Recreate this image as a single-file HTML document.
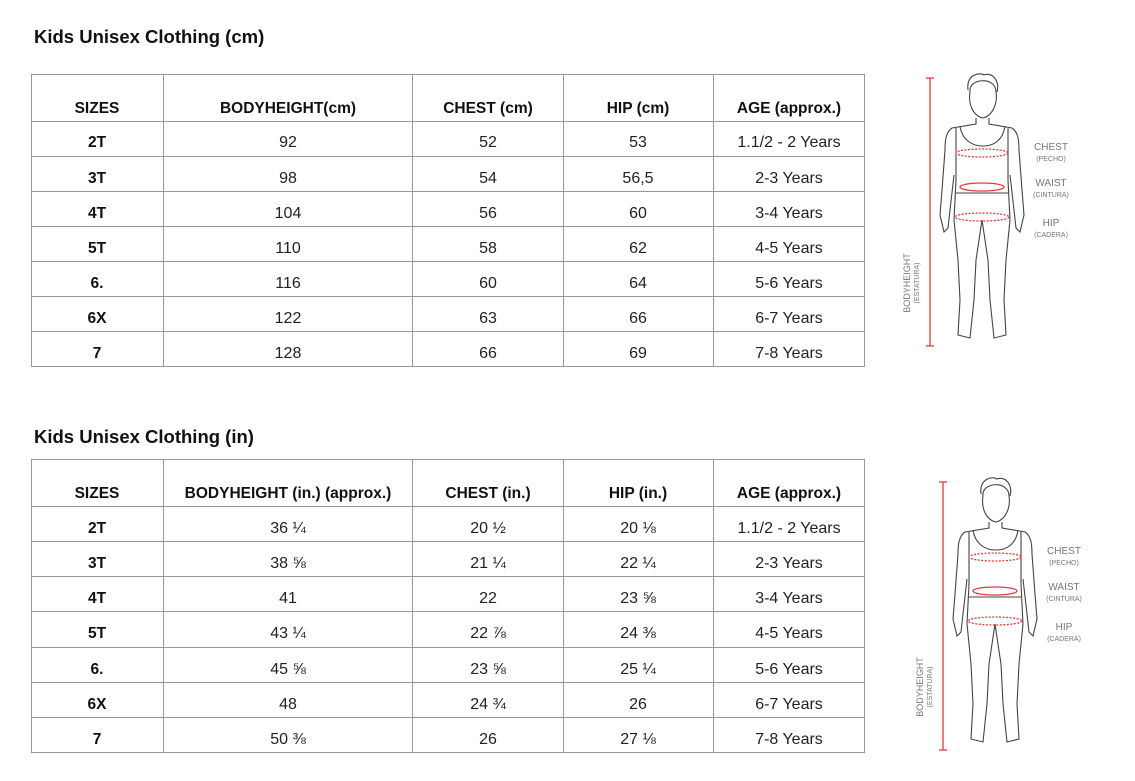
<!DOCTYPE html>
<html><head><meta charset="utf-8"><style>
html,body{margin:0;padding:0;background:#fff;}
svg{display:block;}
.t{font-family:"Liberation Sans",sans-serif;font-size:18.5px;font-weight:bold;fill:#111;}
.h{font-family:"Liberation Sans",sans-serif;font-size:15.5px;font-weight:bold;fill:#111;text-anchor:middle;}
.d{font-family:"Liberation Sans",sans-serif;font-size:16px;fill:#222;text-anchor:middle;}
.sz{font-family:"Liberation Sans",sans-serif;font-size:15.5px;font-weight:bold;fill:#111;text-anchor:middle;}
.lb{font-family:"Liberation Sans",sans-serif;font-size:10px;fill:#777;text-anchor:middle;}
.ls{font-family:"Liberation Sans",sans-serif;font-size:7px;fill:#777;text-anchor:middle;}
</style></head><body>
<svg width="1135" height="781" viewBox="0 0 1135 781" xmlns="http://www.w3.org/2000/svg">
<defs>
<g id="fig">
  <line x1="930" y1="78" x2="930" y2="346" stroke="#e53a3a" stroke-width="1.3"/>
  <line x1="926" y1="78" x2="934" y2="78" stroke="#e53a3a" stroke-width="1.3"/>
  <line x1="926" y1="346" x2="934" y2="346" stroke="#e53a3a" stroke-width="1.3"/>
  <g fill="none" stroke="#444" stroke-width="1.1">
    <path d="M970 92 C968 78 996 76 996 92 C998 104 992 116 983 118 C973 116 968 104 970 92 Z"/>
    <path d="M968 90 C966 74 980 72 984 75 C992 72 1000 80 997 92"/>
    <path d="M976 118 L976 124 L952 128 C946 132 945 140 945 150 L942 190 L940 215 L944 232 L948 228 L950 210 L954 175"/>
    <path d="M989 118 L989 124 L1012 128 C1018 132 1019 140 1019 150 L1022 190 L1024 215 L1020 232 L1016 228 L1014 210 L1010 175"/>
    <path d="M960 126 C962 140 972 146 983 146 C994 146 1003 140 1005 126"/>
    <path d="M956 128 L956 180 L954 220 L958 260 L960 300 L958 335 L970 338 L974 300 L976 260 L982 220"/>
    <path d="M1008 128 L1008 180 L1010 220 L1006 260 L1004 300 L1006 335 L994 338 L990 300 L988 260 L982 220"/>
    <path d="M956 193 L1008 193"/>
  </g>
  <g fill="none" stroke="#e53a3a" stroke-width="1.3">
    <ellipse cx="982" cy="153" rx="26" ry="4" stroke-dasharray="2 1.5"/>
    <ellipse cx="982" cy="187" rx="22" ry="4"/>
    <ellipse cx="982" cy="217" rx="27" ry="4" stroke-dasharray="2 1.5"/>
  </g>
  <text class="lb" x="1051" y="150">CHEST</text><text class="ls" x="1051" y="161">(PECHO)</text>
  <text class="lb" x="1051" y="186">WAIST</text><text class="ls" x="1051" y="197">(CINTURA)</text>
  <text class="lb" x="1051" y="226">HIP</text><text class="ls" x="1051" y="237">(CADERA)</text>
  <g transform="translate(910,283) rotate(-90)"><text class="lb" x="0" y="0" style="font-size:9px">BODYHEIGHT</text><text class="ls" x="0" y="9">(ESTATURA)</text></g>
</g>
</defs>

<text class="t" x="34" y="43">Kids Unisex Clothing (cm)</text>
<g stroke="#999" stroke-width="1" fill="none">
  <rect x="31.5" y="74.5" width="833" height="292"/>
  <path d="M163.5 74.5V366.5M412.5 74.5V366.5M563.5 74.5V366.5M713.5 74.5V366.5"/>
  <path d="M31.5 121.5H864.5M31.5 156.5H864.5M31.5 191.5H864.5M31.5 226.5H864.5M31.5 261.5H864.5M31.5 296.5H864.5M31.5 331.5H864.5"/>
</g>
<g>
<text class="h" x="97" y="113">SIZES</text><text class="h" x="288" y="113">BODYHEIGHT(cm)</text><text class="h" x="488" y="113">CHEST (cm)</text><text class="h" x="638" y="113">HIP (cm)</text><text class="h" x="789" y="113">AGE (approx.)</text>
<text class="sz" x="97" y="147">2T</text><text class="d" x="288" y="147">92</text><text class="d" x="488" y="147">52</text><text class="d" x="638" y="147">53</text><text class="d" x="789" y="147">1.1/2 - 2 Years</text>
<text class="sz" x="97" y="183">3T</text><text class="d" x="288" y="183">98</text><text class="d" x="488" y="183">54</text><text class="d" x="638" y="183">56,5</text><text class="d" x="789" y="183">2-3 Years</text>
<text class="sz" x="97" y="218">4T</text><text class="d" x="288" y="218">104</text><text class="d" x="488" y="218">56</text><text class="d" x="638" y="218">60</text><text class="d" x="789" y="218">3-4 Years</text>
<text class="sz" x="97" y="253">5T</text><text class="d" x="288" y="253">110</text><text class="d" x="488" y="253">58</text><text class="d" x="638" y="253">62</text><text class="d" x="789" y="253">4-5 Years</text>
<text class="sz" x="97" y="288">6.</text><text class="d" x="288" y="288">116</text><text class="d" x="488" y="288">60</text><text class="d" x="638" y="288">64</text><text class="d" x="789" y="288">5-6 Years</text>
<text class="sz" x="97" y="323">6X</text><text class="d" x="288" y="323">122</text><text class="d" x="488" y="323">63</text><text class="d" x="638" y="323">66</text><text class="d" x="789" y="323">6-7 Years</text>
<text class="sz" x="97" y="358">7</text><text class="d" x="288" y="358">128</text><text class="d" x="488" y="358">66</text><text class="d" x="638" y="358">69</text><text class="d" x="789" y="358">7-8 Years</text>
</g>

<text class="t" x="34" y="443">Kids Unisex Clothing  (in)</text>
<g stroke="#999" stroke-width="1" fill="none">
  <rect x="31.5" y="459.5" width="833" height="293"/>
  <path d="M163.5 459.5V752.5M412.5 459.5V752.5M563.5 459.5V752.5M713.5 459.5V752.5"/>
  <path d="M31.5 506.5H864.5M31.5 541.5H864.5M31.5 576.5H864.5M31.5 611.5H864.5M31.5 647.5H864.5M31.5 682.5H864.5M31.5 717.5H864.5"/>
</g>
<g>
<text class="h" x="97" y="498">SIZES</text><text class="h" x="288" y="498">BODYHEIGHT (in.) (approx.)</text><text class="h" x="488" y="498">CHEST (in.)</text><text class="h" x="638" y="498">HIP (in.)</text><text class="h" x="789" y="498">AGE (approx.)</text>
<text class="sz" x="97" y="533">2T</text><text class="d" x="288" y="533">36 ¼</text><text class="d" x="488" y="533">20 ½</text><text class="d" x="638" y="533">20 ⅛</text><text class="d" x="789" y="533">1.1/2 - 2 Years</text>
<text class="sz" x="97" y="568">3T</text><text class="d" x="288" y="568">38 ⅝</text><text class="d" x="488" y="568">21 ¼</text><text class="d" x="638" y="568">22 ¼</text><text class="d" x="789" y="568">2-3 Years</text>
<text class="sz" x="97" y="603">4T</text><text class="d" x="288" y="603">41</text><text class="d" x="488" y="603">22</text><text class="d" x="638" y="603">23 ⅝</text><text class="d" x="789" y="603">3-4 Years</text>
<text class="sz" x="97" y="638">5T</text><text class="d" x="288" y="638">43 ¼</text><text class="d" x="488" y="638">22 ⅞</text><text class="d" x="638" y="638">24 ⅜</text><text class="d" x="789" y="638">4-5 Years</text>
<text class="sz" x="97" y="674">6.</text><text class="d" x="288" y="674">45 ⅝</text><text class="d" x="488" y="674">23 ⅝</text><text class="d" x="638" y="674">25 ¼</text><text class="d" x="789" y="674">5-6 Years</text>
<text class="sz" x="97" y="709">6X</text><text class="d" x="288" y="709">48</text><text class="d" x="488" y="709">24 ¾</text><text class="d" x="638" y="709">26</text><text class="d" x="789" y="709">6-7 Years</text>
<text class="sz" x="97" y="744">7</text><text class="d" x="288" y="744">50 ⅜</text><text class="d" x="488" y="744">26</text><text class="d" x="638" y="744">27 ⅛</text><text class="d" x="789" y="744">7-8 Years</text>
</g>

<use href="#fig"/>
<use href="#fig" transform="translate(13,404)"/>
</svg>
</body></html>
